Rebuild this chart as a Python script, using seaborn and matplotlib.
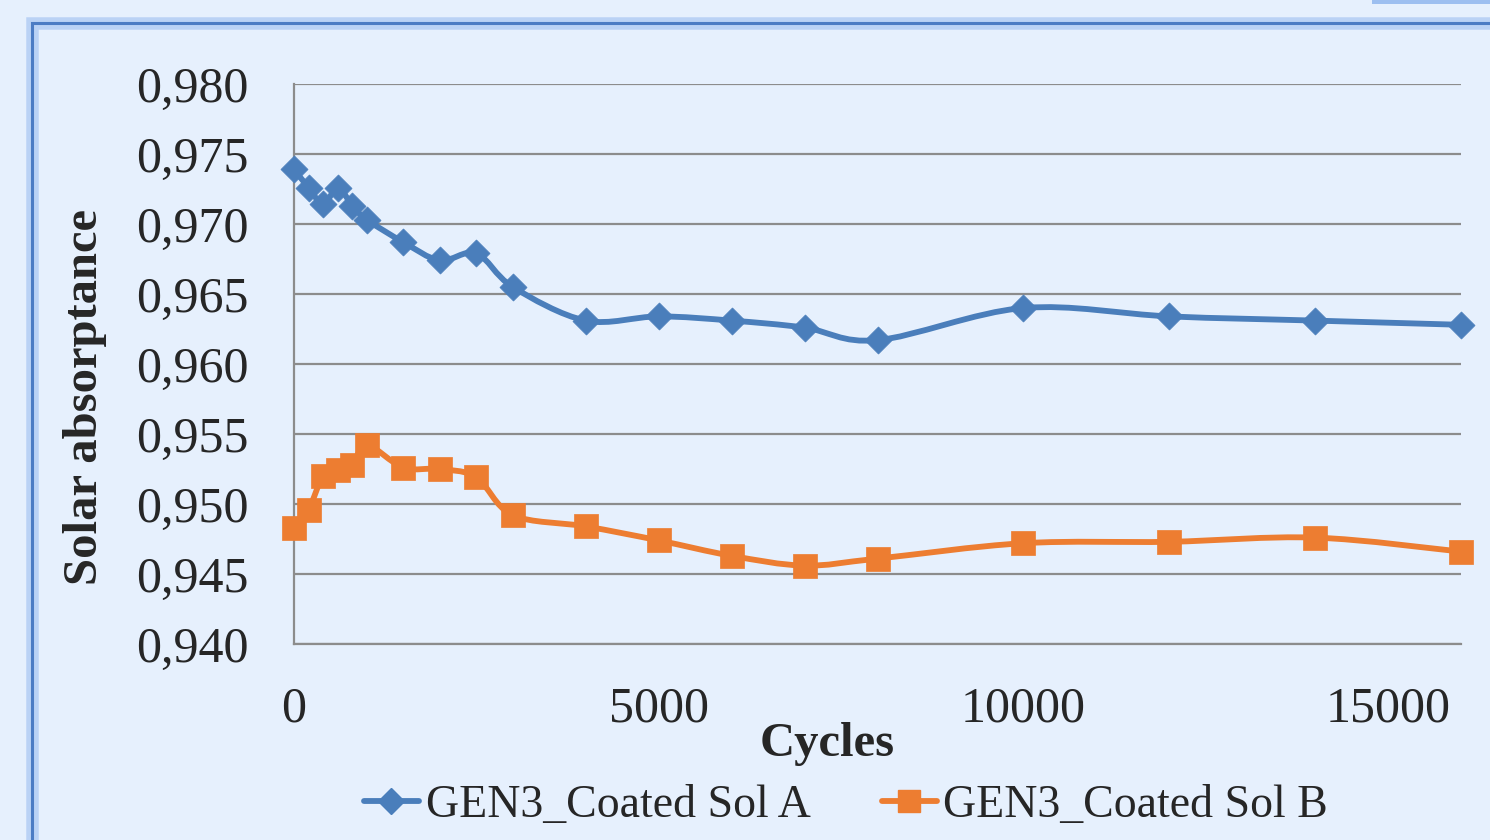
import numpy as np
import pandas as pd
import seaborn as sns
import matplotlib.pyplot as plt
from matplotlib.path import Path
from matplotlib.patches import PathPatch, Rectangle
from matplotlib.lines import Line2D
from matplotlib.ticker import FuncFormatter

# values
cycles = [0, 200, 400, 600, 800, 1000, 1500, 2000, 2500, 3000, 4000,
          5000, 6000, 7000, 8000, 10000, 12000, 14000, 16000]
sol_a = [0.9739, 0.9726, 0.9714, 0.9726, 0.9713, 0.9703, 0.9687, 0.9674, 0.9679, 0.9655,
         0.9631, 0.9634, 0.9631, 0.9626, 0.9617, 0.9640, 0.9634, 0.9631, 0.9628]
sol_b = [0.9483, 0.9496, 0.9520, 0.9524, 0.9528, 0.9542, 0.9526, 0.9525, 0.9519, 0.9492,
         0.9484, 0.9474, 0.9463, 0.9456, 0.9461, 0.9472, 0.9473, 0.9476, 0.9466]
series_names = ["GEN3_Coated Sol A", "GEN3_Coated Sol B"]
y_ticks = [0.940, 0.945, 0.950, 0.955, 0.960, 0.965, 0.970, 0.975, 0.980]
x_ticks = [0, 5000, 10000, 15000]

blue = "#4A7EBB"
orange = "#ED7D31"
bg = "#E6F0FD"

sns.set_style("white")
plt.rcParams["font.family"] = ["Liberation Serif", "DejaVu Serif"]

df = pd.DataFrame({"Cycles": cycles * 2,
                   "value": sol_a + sol_b,
                   "series": [series_names[0]] * len(cycles) + [series_names[1]] * len(cycles)})


def smooth_path(x, y):
    # excel-like smoothed line (bezier through the points)
    pts = np.column_stack([x, y]).astype(float)
    n = len(pts)
    verts = [pts[0]]
    codes = [Path.MOVETO]
    for i in range(n - 1):
        p0 = pts[i - 1] if i > 0 else pts[i]
        p1, p2 = pts[i], pts[i + 1]
        p3 = pts[i + 2] if i + 2 < n else pts[i + 1]
        verts += [p1 + (p2 - p0) / 6, p2 - (p3 - p1) / 6, p2]
        codes += [Path.CURVE4] * 3
    return Path(verts, codes)


fig = plt.figure(figsize=(14.9, 8.4), dpi=100, facecolor=bg)
ax = fig.add_axes([294 / 1490, 1 - 644 / 840, (1461 - 294) / 1490, (644 - 84) / 840])
ax.set_facecolor(bg)

for name, col, mk, s in [(series_names[0], blue, "D", 190), (series_names[1], orange, "s", 285)]:
    sub = df[df.series == name]
    ax.add_patch(PathPatch(smooth_path(sub.Cycles, sub.value), fill=False,
                           edgecolor=col, lw=4.2, zorder=3, capstyle="round"))
    sns.scatterplot(data=sub, x="Cycles", y="value", marker=mk, s=s, color=col,
                    edgecolor=col, linewidth=0.5, ax=ax, zorder=4, legend=False, clip_on=False)

ax.set_xlim(0, 16000)
ax.set_ylim(0.940, 0.980)
ax.set_xticks(x_ticks)
ax.set_yticks(y_ticks)
ax.yaxis.set_major_formatter(FuncFormatter(lambda v, p: f"{v:.3f}".replace(".", ",")))
ax.tick_params(axis="both", length=0, labelsize=36)
ax.tick_params(axis="y", pad=33)
ax.tick_params(axis="x", pad=30)
ax.grid(axis="y", color="#8C8C8C", lw=1.6)
ax.set_axisbelow(True)
for side in ["top", "right"]:
    ax.spines[side].set_visible(False)
for side in ["left", "bottom"]:
    ax.spines[side].set_color("#8C8C8C")
    ax.spines[side].set_linewidth(1.6)
ax.set_xlabel("")
ax.set_ylabel("")

fig.text(85 / 1490, 1 - 397 / 840, "Solar absorptance", rotation=90, fontsize=35,
         fontweight="bold", ha="center", va="center")
fig.text(827 / 1490, 1 - 744 / 840, "Cycles", fontsize=35, fontweight="bold",
         ha="center", va="center")

handles = [Line2D([], [], color=blue, lw=4.2, marker="D", ms=13),
           Line2D([], [], color=orange, lw=4.2, marker="s", ms=16)]
fig.legend(handles, series_names, loc="center", bbox_to_anchor=(846 / 1490, 1 - 806 / 840),
           ncol=2, frameon=False, fontsize=33, handlelength=1.2, handletextpad=0.15,
           columnspacing=1.55)

# chart frame with glow
for lw, c, a in [(9, "#9DBFF0", 0.6), (2.2, "#4C7CC4", 1.0)]:
    fig.add_artist(Rectangle((32 / 1490, -0.1), 1.2, 1 - 23 / 840 + 0.1, transform=fig.transFigure,
                             fill=False, edgecolor=c, lw=lw, alpha=a))
fig.add_artist(Rectangle((1372 / 1490, 1 - 4 / 840), 0.2, 0.1, transform=fig.transFigure,
                         facecolor="#9DBFF0", edgecolor="none"))

fig.savefig("out.png", dpi=100, facecolor=bg)
